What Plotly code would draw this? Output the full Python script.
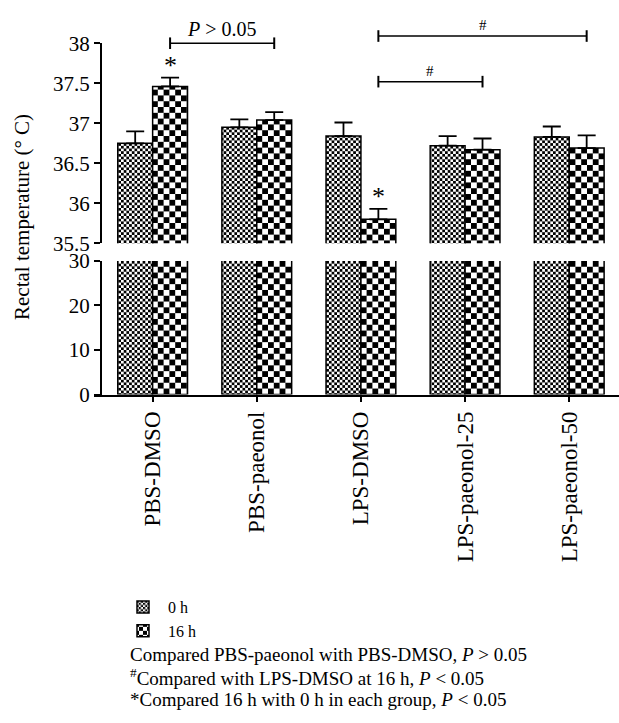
import plotly.graph_objects as go

# ---------------- data ----------------
categories = ["PBS-DMSO", "PBS-paeonol", "LPS-DMSO", "LPS-paeonol-25", "LPS-paeonol-50"]
temp_0h = [36.75, 36.95, 36.84, 36.72, 36.83]
err_0h = [0.15, 0.10, 0.17, 0.12, 0.13]
temp_16h = [37.46, 37.04, 35.80, 36.67, 36.69]
err_16h = [0.11, 0.10, 0.13, 0.14, 0.16]
series_names = ["0 h", "16 h"]
upper_ticks = [35.5, 36, 36.5, 37, 37.5, 38]
lower_ticks = [0, 10, 20, 30]
footnotes = [
    "Compared PBS-paeonol with PBS-DMSO, <i>P</i> &gt; 0.05",
    "<sup>#</sup>Compared with LPS-DMSO at 16 h, <i>P</i> &lt; 0.05",
    "*Compared 16 h with 0 h in each group, <i>P</i> &lt; 0.05",
]

# ---------------- layout geometry ----------------
W, H = 619, 723
FONT = "Liberation Serif, Times New Roman, serif"
x_dom = [94 / W, 1.0]
x_rng = [-0.563, 4.478]
y_low_dom = [1 - 395.7 / H, 1 - 257.5 / H]
y_up_dom = [1 - 239.3 / H, 1 - 32.3 / H]
y_low_rng = [0, 30]
y_up_rng = [35.5, 38]
yaxis_pos = 100.6 / W
bargap = 0.33
bar_off = (1 - bargap) / 4  # centre offset of each bar within group


def xp(v):
    return x_dom[0] + (v - x_rng[0]) / (x_rng[1] - x_rng[0]) * (x_dom[1] - x_dom[0])


def yp(v):
    return y_up_dom[0] + (v - y_up_rng[0]) / (y_up_rng[1] - y_up_rng[0]) * (y_up_dom[1] - y_up_dom[0])


fig = go.Figure()
pat_sizes = [5.4, 11.6]
vals = [temp_0h, temp_16h]
errs = [err_0h, err_16h]
for k in range(2):
    pattern = dict(shape="+", size=pat_sizes[k], solidity=0.5, fgcolor="black",
                   bgcolor="white", fillmode="replace")
    # upper panel
    fig.add_trace(go.Bar(
        x=categories, y=vals[k], name=series_names[k], xaxis="x2", yaxis="y2",
        marker=dict(color="white", pattern=pattern, line=dict(color="black", width=1.5)),
        error_y=dict(type="data", array=errs[k], symmetric=False,
                     arrayminus=[0] * len(errs[k]), color="black", thickness=1.8, width=9),
        showlegend=True, legendgroup=series_names[k],
    ))
    # lower panel
    fig.add_trace(go.Bar(
        x=categories, y=vals[k], name=series_names[k], xaxis="x", yaxis="y",
        marker=dict(color="white", pattern=pattern, line=dict(color="black", width=1.5)),
        showlegend=False, legendgroup=series_names[k],
    ))

axis_common = dict(showline=True, linecolor="black", linewidth=1.5, ticks="outside",
                   ticklen=6, tickwidth=1.5, tickcolor="black", showgrid=False, zeroline=False)

fig.update_layout(
    width=W, height=H, margin=dict(l=0, r=0, t=0, b=0),
    paper_bgcolor="white", plot_bgcolor="white",
    barmode="group", bargap=bargap, bargroupgap=0,
    font=dict(family=FONT, size=21, color="black"),
    xaxis=dict(domain=x_dom, range=x_rng, anchor="y", type="category", tickangle=-90,
               tickfont=dict(family=FONT, size=23, color="black"), **axis_common),
    xaxis2=dict(domain=x_dom, range=x_rng, anchor="y2", matches="x", type="category",
                visible=False),
    yaxis=dict(domain=y_low_dom, range=y_low_rng, anchor="free", position=yaxis_pos,
               tickvals=lower_ticks, tickfont=dict(family=FONT, size=21, color="black"),
               **axis_common),
    yaxis2=dict(domain=y_up_dom, range=y_up_rng, anchor="free", position=yaxis_pos,
                tickvals=upper_ticks, tickfont=dict(family=FONT, size=21, color="black"),
                **axis_common),
    legend=dict(x=118 / W, y=1 - 598 / H, xanchor="left", yanchor="top",
                font=dict(family=FONT, size=16), tracegroupgap=0, itemwidth=40,
                bgcolor="rgba(0,0,0,0)"),
)

# y-axis title
fig.add_annotation(text="Rectal temperature (° C)", textangle=-90, xref="paper", yref="paper",
                   x=22 / W, y=1 - 212 / H, xanchor="center", yanchor="middle",
                   showarrow=False, font=dict(family=FONT, size=21))

# significance brackets (between 16 h bars)
brackets = [  # (from group, to group, level, label)
    (0, 1, 38.0, "<i>P</i> &gt; 0.05"),
    (2, 4, 38.09, "#"),
    (2, 3, 37.52, "#"),
]
cap = 6 / H
for g0, g1, lev, lab in brackets:
    x0, x1, y = xp(g0 + bar_off), xp(g1 + bar_off), yp(lev)
    fig.add_shape(type="line", xref="paper", yref="paper", x0=x0, x1=x1, y0=y, y1=y,
                  line=dict(color="black", width=1.5))
    for xx in (x0, x1):
        fig.add_shape(type="line", xref="paper", yref="paper", x0=xx, x1=xx,
                      y0=y - cap, y1=y + cap, line=dict(color="black", width=2))
    fig.add_annotation(text=lab, xref="paper", yref="paper", x=(x0 + x1) / 2, y=y + 1 / H,
                       xanchor="center", yanchor="bottom", showarrow=False,
                       font=dict(family=FONT, size=20 if lab.startswith("<i>") else 15))

# asterisks over significant 16 h bars
for g in (0, 2):
    fig.add_annotation(text="*", xref="paper", yref="paper", x=xp(g + bar_off),
                       y=yp(temp_16h[g] + err_16h[g]) - 4 / H, xanchor="center",
                       yanchor="bottom", showarrow=False, font=dict(family=FONT, size=26))

# footnotes
foot_y = [665, 688, 711]
for t, yy in zip(footnotes, foot_y):
    fig.add_annotation(text=t, xref="paper", yref="paper", x=128 / W, y=1 - yy / H,
                       xanchor="left", yanchor="middle", showarrow=False,
                       font=dict(family=FONT, size=19))

post = """
var gd = document.getElementById('{plot_id}');
function checker(){
  var ns = 'http://www.w3.org/2000/svg';
  document.querySelectorAll('pattern').forEach(function(p){
    var w = parseFloat(p.getAttribute('width'));
    var h = parseFloat(p.getAttribute('height'));
    while (p.firstChild) p.removeChild(p.firstChild);
    var bg = document.createElementNS(ns, 'rect');
    bg.setAttribute('width', w); bg.setAttribute('height', h); bg.setAttribute('fill', '#fff');
    p.appendChild(bg);
    [[0, 0], [w / 2, h / 2]].forEach(function(o){
      var r = document.createElementNS(ns, 'rect');
      r.setAttribute('x', o[0]); r.setAttribute('y', o[1]);
      r.setAttribute('width', w / 2); r.setAttribute('height', h / 2);
      r.setAttribute('fill', '#000');
      p.appendChild(r);
    });
  });
}
checker();
gd.on('plotly_afterplot', checker);
"""

fig.write_html("out.html", post_script=post)
